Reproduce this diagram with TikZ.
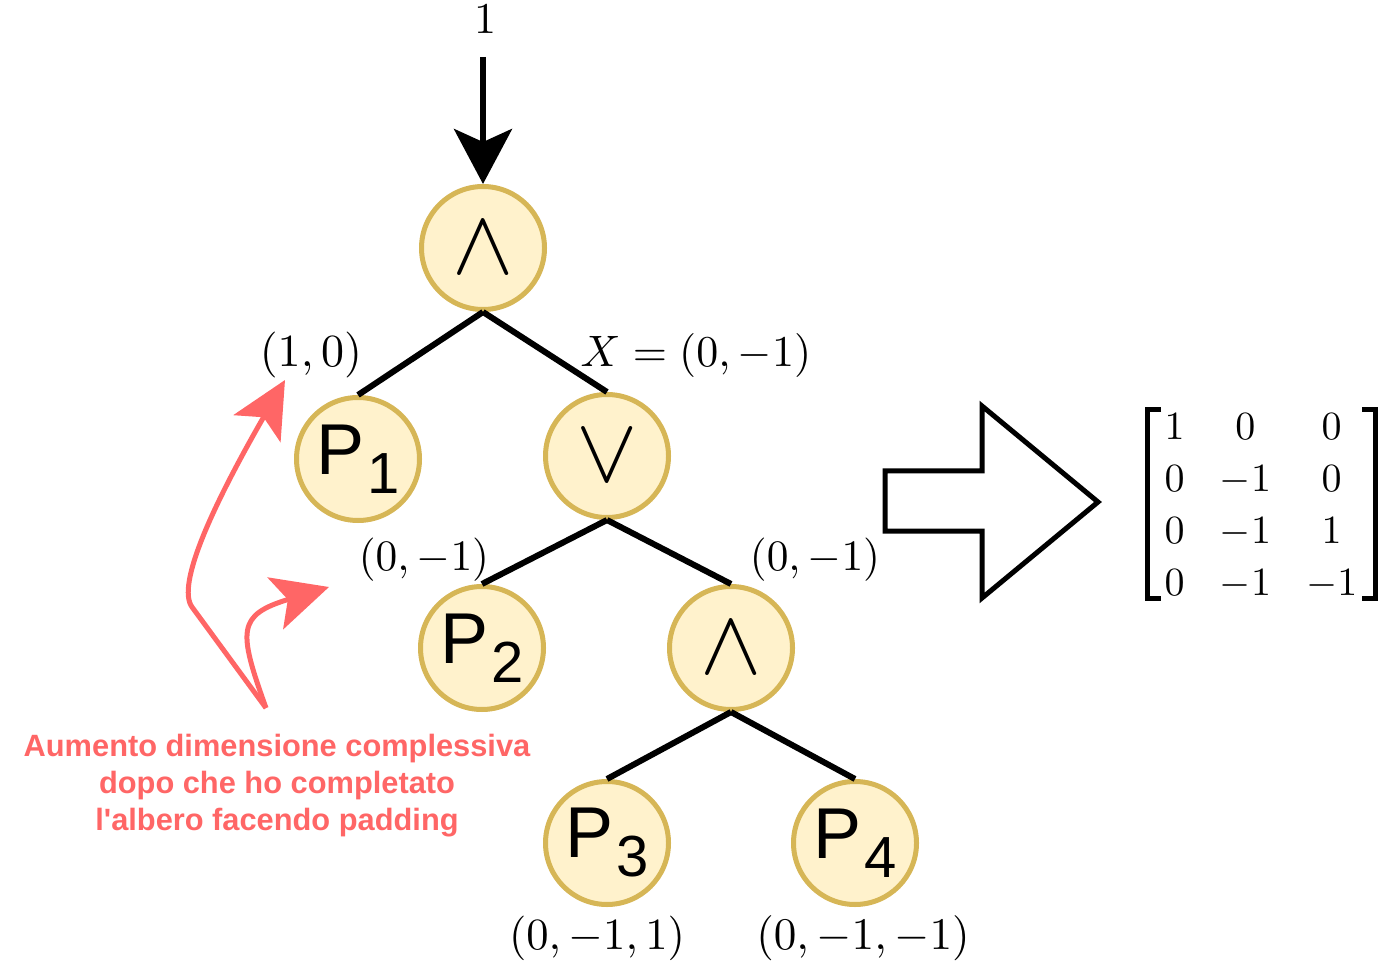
\documentclass[tikz,border=0pt]{standalone}
\usepackage{amsmath}
\usepackage{fontspec}
\newfontfamily\arialfont{Liberation Sans}
\DeclareFontShape{OT1}{cmr}{m}{n}{<->cmr10}{}
\DeclareFontShape{OML}{cmm}{m}{it}{<->cmmi10}{}
\DeclareFontShape{OMS}{cmsy}{m}{n}{<->cmsy10}{}
\DeclareFontShape{OMX}{cmex}{m}{n}{<->cmex10}{}
\usetikzlibrary{arrows.meta}
\definecolor{gatefill}{HTML}{FFF2CC}
\definecolor{gateline}{HTML}{D6B656}
\definecolor{notered}{HTML}{FF6666}
\newcommand{\pleaf}[1]{{\arialfont\fontsize{36}{36}\selectfont P\kern1.5pt\raisebox{-9.5pt}{\fontsize{29}{29}\selectfont #1}}}
\newcommand{\gsym}[1]{{\fontsize{46}{46}\selectfont$#1$}}
\begin{document}
\begin{tikzpicture}[x=0.5pt,y=-0.5pt,
  gate/.style={draw=gateline, fill=gatefill, circle, line width=2.5pt, minimum size=61.5pt, inner sep=0pt},
  lbl/.style={inner sep=0pt, font=\fontsize{22}{26}\selectfont},
  note/.style={draw=notered, line width=2.5pt, -{Stealth[length=28pt,width=27pt,inset=6.5pt]}}]
\useasboundingbox (0,0) rectangle (1380,967);
\node[gate] (1) at (483,248) {\gsym{\wedge}};
\node[gate] (2) at (358,459) {\pleaf{1}};
\node[gate] (3) at (607,456) {\gsym{\vee}};
\node[gate] (4) at (482,648) {\pleaf{2}};
\node[gate] (5) at (731,648) {\gsym{\wedge}};
\node[gate] (6) at (607,843) {\pleaf{3}};
\node[gate] (7) at (855,843) {\pleaf{4}};
\path[draw,line width=3pt,-] (1.south) -- (2.north);
\path[draw,line width=3pt,-] (1.south) -- (3.north);
\path[draw,line width=3pt,-] (3.south) -- (4.north);
\path[draw,line width=3pt,-] (3.south) -- (5.north);
\path[draw,line width=3pt,-] (5.south) -- (6.north);
\path[draw,line width=3pt,-] (5.south) -- (7.north);
% input of the root
\node[lbl] (in) at (485,19) {$1$};
\coordinate (start) at (483,57);
\draw[line width=3pt,-{Stealth[length=27.5pt,width=29pt,inset=6.5pt]}] (start) -- (1.north);
% values on the edges
\node[lbl, font=\fontsize{23}{26}\selectfont] (l1) at (311,355) {$(1,0)$};
\node[lbl] (l2) at (696,356) {$X=(0,-1)$};
\node[lbl, font=\fontsize{21.7}{26}\selectfont] (l3) at (424,560) {$(0,-1)$};
\node[lbl, font=\fontsize{21.7}{26}\selectfont] (l4) at (815,560) {$(0,-1)$};
\node[lbl, font=\fontsize{22.3}{26}\selectfont] (l5) at (597,938) {$(0,-1,1)$};
\node[lbl, font=\fontsize{22.6}{26}\selectfont] (l6) at (863,938) {$(0,-1,-1)$};
% big arrow and matrix
\draw[line width=2.5pt, line join=miter] (885,471) -- (982,471) -- (982,406) -- (1098,502) -- (982,598) -- (982,531) -- (885,531) -- cycle;
\node[inner sep=0pt, font=\fontsize{20}{26}\selectfont] (m) at (1261,507)
  {$\setlength{\arraycolsep}{8.8pt}\begin{matrix}1&0&0\\0&-1&0\\0&-1&1\\0&-1&-1\end{matrix}$};
\draw[line width=2.5pt] (1161,410) -| (1147,598) -- (1161,598);
\draw[line width=2.5pt] (1362,410) -| (1375,598) -- (1362,598);
% red note
\node[inner sep=0pt, align=center, text=notered, font=\arialfont\bfseries\fontsize{15.4}{18.5}\selectfont] (txt) at (277,786)
  {Aumento dimensione complessiva\\dopo che ho completato\\l\textquotesingle albero facendo padding};
\coordinate (src) at (266,708);
\coordinate (t1) at (285,380);
\coordinate (t2) at (329,587);
\draw[note] (src) -- (192,607) .. controls (176,585) and (213,505) .. (t1);
\draw[note] (src) .. controls (238,630) and (237,615) .. (t2);
\end{tikzpicture}
\end{document}
